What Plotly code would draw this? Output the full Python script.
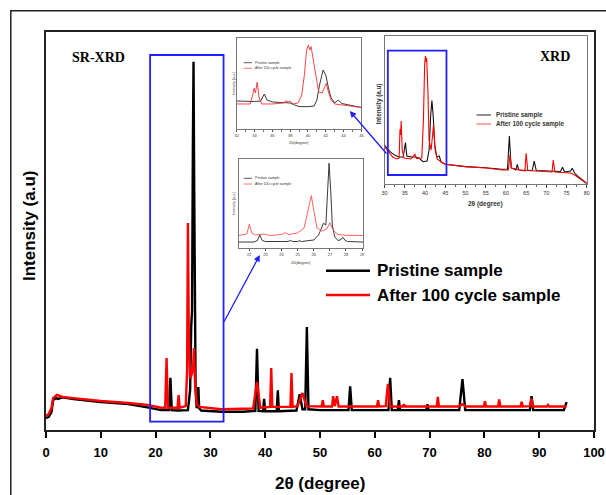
import plotly.graph_objects as go

# ---------------- main SR-XRD pattern ----------------
main_black_x = [0, 0.5, 1.0, 1.3, 1.8, 2.2, 3, 5, 10, 15, 18.5, 21, 22.45, 22.7, 22.95, 24, 25.9, 26.3, 26.5, 26.65, 26.8, 26.92, 27.05, 27.15, 27.3, 27.5, 27.65, 27.8, 27.95, 28.3, 32, 36, 38.2, 38.5, 38.8, 39.6, 39.8, 40.0, 42.1, 42.3, 42.5, 45.7, 46.3, 46.8, 47.3, 47.6, 47.9, 50, 55.2, 55.5, 55.8, 60, 62.5, 62.8, 63.1, 64.2, 64.4, 64.6, 69.4, 69.6, 69.8, 75.4, 76.0, 76.5, 80, 88.3, 88.6, 88.9, 94.5, 94.9, 95]
main_black_y = [3.0, 3.3, 4.5, 7.5, 8.0, 7.8, 8.2, 7.8, 7.0, 6.5, 5.7, 5.0, 5.0, 13.1, 5.0, 4.9, 5.0, 10, 26, 30, 70, 92.5, 60, 30, 10, 5.5, 6.0, 10.8, 5.5, 4.9, 4.6, 4.6, 4.8, 20.4, 4.8, 4.7, 7.8, 4.7, 4.7, 10.0, 4.7, 4.9, 9.0, 5.2, 5.2, 25.9, 5.2, 5.0, 5.0, 11.0, 5.0, 5.0, 5.0, 13.1, 5.0, 5.0, 7.5, 5.0, 5.0, 6.5, 5.0, 5.0, 12.8, 5.0, 5.0, 5.0, 8.5, 5.0, 5.0, 7.0, 7.0]

main_red_x = [0, 0.5, 1.0, 1.3, 2.0, 2.5, 3, 5, 10, 15, 18.5, 21, 21.75, 22.0, 22.25, 24.0, 24.2, 24.4, 25.5, 25.75, 25.9, 26.05, 26.3, 26.6, 26.85, 27.0, 27.2, 27.5, 28, 32, 37.8, 38.5, 39.1, 40.9, 41.1, 41.3, 44.6, 44.8, 45.0, 45.9, 46.8, 47.5, 50.3, 50.5, 50.7, 52.2, 52.4, 52.7, 53.1, 53.4, 60.4, 60.6, 60.8, 62.0, 62.4, 62.8, 65.1, 65.3, 65.5, 71.3, 71.5, 71.7, 75.3, 76.0, 76.6, 79.9, 80.1, 80.3, 82.5, 82.7, 82.9, 86.6, 86.8, 87.0, 88.3, 88.6, 88.9, 91.4, 91.6, 91.8, 95]
main_red_y = [3.5, 4.0, 5.5, 8.0, 8.8, 8.5, 8.3, 8.0, 7.3, 6.8, 6.3, 5.6, 5.6, 18.1, 5.6, 5.6, 8.8, 5.6, 6.0, 15, 52.0, 25, 13, 14, 16, 20.6, 12, 6.5, 5.8, 5.2, 5.4, 12.1, 5.6, 5.8, 15.6, 5.8, 5.8, 14.3, 5.8, 6.0, 9.3, 6.0, 5.9, 7.5, 5.9, 5.9, 8.5, 6.0, 8.5, 5.9, 5.9, 7.5, 5.9, 6.0, 11.6, 5.9, 5.9, 6.5, 5.9, 5.9, 8.3, 5.9, 5.9, 6.5, 5.9, 5.9, 7.2, 5.9, 5.9, 7.7, 5.9, 5.9, 7.1, 5.9, 6.0, 7.9, 5.9, 5.9, 6.3, 5.9, 5.9]

# ---------------- inset 1 : XRD zoom 32-46 ----------------
in1_black_x = [32, 33, 34, 34.7, 35.1, 35.4, 36, 37, 38, 38.5, 39, 40, 40.7, 41.0, 41.3, 41.7, 42.0, 42.3, 42.6, 43.0, 43.4, 43.8, 44.5, 45.5, 46]
in1_black_y = [30.9, 30.3, 30.3, 30.9, 38.6, 32, 29.8, 29.2, 28.7, 26.5, 24.8, 24.6, 25.4, 32, 48.5, 65, 59.5, 45.2, 34.2, 28.7, 32, 28.1, 26.5, 24.3, 23.7]
in1_red_x = [32, 33.5, 33.8, 33.95, 34.1, 34.3, 34.5, 34.8, 36, 37.3, 37.5, 37.8, 38.0, 38.3, 38.9, 39.3, 39.6, 39.85, 40.05, 40.2, 40.35, 40.6, 40.9, 41.2, 41.6, 41.9, 42.05, 42.3, 42.6, 43, 44, 45, 46]
in1_red_y = [27.6, 27.6, 37.5, 44.9, 39.7, 51.5, 35.3, 27.6, 27.6, 28.7, 31.2, 29.8, 30.9, 27.6, 28.7, 37.5, 59.5, 87.1, 92.6, 87.1, 90.9, 76, 54, 40.8, 39.7, 46.3, 50.4, 40.8, 32, 27.6, 26.5, 24.8, 23.7]

# ---------------- inset 2 : SR-XRD zoom 21.3-29.1 ----------------
in2_black_x = [21.33, 22.3, 22.5, 22.65, 22.8, 23.0, 24.0, 24.4, 24.55, 24.7, 25.0, 25.1, 25.25, 26.0, 26.3, 26.5, 26.6, 26.75, 26.85, 26.95, 27.05, 27.15, 27.3, 27.5, 27.7, 27.8, 27.95, 28.1, 29.08]
in2_black_y = [6.7, 6.7, 8.5, 14.6, 8.5, 7.3, 7.3, 7.3, 8.4, 7.3, 7.3, 8.2, 7.3, 9, 14.6, 23.6, 27.8, 25.8, 65, 95.2, 65, 25.8, 12.4, 8.4, 9.5, 12, 8.5, 7.3, 6.7]
in2_red_x = [21.33, 21.85, 22.0, 22.15, 22.4, 22.9, 23.3, 24.0, 24.2, 24.45, 25.0, 25.4, 25.65, 25.85, 26.0, 26.2, 26.5, 26.8, 27.0, 27.2, 27.5, 28.0, 29.08]
in2_red_y = [14, 15.7, 26.6, 16.9, 14.6, 15.7, 14, 15.2, 17.2, 15.2, 16.9, 22.5, 42.7, 58.8, 42.7, 22.5, 19.1, 21.3, 28.4, 20.2, 15.2, 14.3, 14]

# ---------------- inset 3 : lab XRD 30-80 ----------------
in3_black_x = [30, 30.5, 31.5, 32.5, 33.5, 34.6, 35.15, 35.5, 36.5, 37.5, 38.5, 39.5, 40.5, 41.0, 41.4, 41.7, 42.0, 42.4, 42.9, 43.5, 44.0, 45, 50, 55, 59, 60.4, 60.85, 61.3, 62.5, 62.8, 63.2, 66.5, 67.0, 67.5, 73.5, 74.0, 74.5, 76.0, 76.4, 77, 78, 79, 80]
in3_black_y = [26.5, 24.5, 21.7, 19.7, 18.4, 18.4, 28.1, 19.1, 18.4, 18.4, 17.7, 15.2, 15.7, 23.1, 46.7, 56.4, 46.7, 26.5, 18.4, 19.1, 15, 13.5, 11.9, 11.2, 10.1, 10.3, 32.6, 11, 9.6, 13.5, 9.6, 9.3, 15.7, 9.3, 8.6, 11.5, 8.3, 9, 10.8, 7.6, 4.9, 2.6, 0.7]
in3_red_x = [30, 31, 32, 33, 33.6, 33.8, 33.95, 34.1, 34.35, 34.8, 36.5, 37.5, 37.9, 39.2, 39.6, 39.9, 40.1, 40.25, 40.4, 40.7, 41.0, 41.5, 42.1, 42.5, 43.0, 44, 45, 50, 55, 59, 60.6, 61.0, 61.4, 64.7, 65.0, 65.4, 71.4, 71.7, 72.1, 75, 76, 77, 78, 79, 80]
in3_red_y = [25.4, 21.8, 18.4, 17.1, 17.7, 37.1, 33.2, 42.7, 23.1, 17.7, 17.1, 20.2, 17.5, 17.7, 43.4, 80.4, 86.5, 82.5, 85.2, 63.6, 29.9, 23.1, 40, 23.1, 17.1, 15, 13.5, 11.9, 11, 9.6, 9.6, 19.8, 11, 9, 20.9, 9.3, 8.3, 16.4, 8.3, 7.8, 7.6, 6.3, 4.2, 2.2, 0.5]

main_ticks = [0, 10, 20, 30, 40, 50, 60, 70, 80, 90, 100]
series_names = ["Pristine sample", "After 100 cycle sample"]

# ---------------- geometry helpers (pixel -> paper) ----------------
W, H = 606, 495
L, R, T, B = 46, 594, 32, 430
def px(x):
    return (x - L) / (R - L)
def py(y):
    return (B - y) / (B - T)

BLACK = "#000000"
RED = "#ff0000"
BLUE = "#1f1fff"
FONT = "Liberation Sans, Arial, sans-serif"
SERIF = "Liberation Serif, Times New Roman, serif"

fig = go.Figure()
fig.add_trace(go.Scatter(x=main_black_x, y=main_black_y, mode="lines", line=dict(color=BLACK, width=2.4), showlegend=False))
fig.add_trace(go.Scatter(x=main_red_x, y=main_red_y, mode="lines", line=dict(color=RED, width=2.4), showlegend=False))

fig.add_trace(go.Scatter(x=in1_black_x, y=in1_black_y, xaxis="x2", yaxis="y2", mode="lines", line=dict(color="#222", width=0.9), showlegend=False))
fig.add_trace(go.Scatter(x=in1_red_x, y=in1_red_y, xaxis="x2", yaxis="y2", mode="lines", line=dict(color="#ff3030", width=0.9), showlegend=False))
fig.add_trace(go.Scatter(x=in2_black_x, y=in2_black_y, xaxis="x3", yaxis="y3", mode="lines", line=dict(color="#222", width=0.9), showlegend=False))
fig.add_trace(go.Scatter(x=in2_red_x, y=in2_red_y, xaxis="x3", yaxis="y3", mode="lines", line=dict(color="#ff5050", width=0.9), showlegend=False))
fig.add_trace(go.Scatter(x=in3_black_x, y=in3_black_y, xaxis="x4", yaxis="y4", mode="lines", line=dict(color="#111", width=1.1), showlegend=False))
fig.add_trace(go.Scatter(x=in3_red_x, y=in3_red_y, xaxis="x4", yaxis="y4", mode="lines", line=dict(color=RED, width=1.1), showlegend=False))

inset_frame = dict(showline=True, linecolor="#777", linewidth=1, mirror=True, showgrid=False, zeroline=False, automargin=False)

fig.update_layout(
    width=W, height=H, autosize=False,
    margin=dict(l=L, r=W - R, t=T, b=H - B, pad=0, autoexpand=False),
    paper_bgcolor="white", plot_bgcolor="white",
    showlegend=False,
    xaxis=dict(range=[0, 100], tickvals=main_ticks, ticks="outside", ticklen=6, tickwidth=1.5, tickcolor=BLACK,
               showline=True, linecolor="#222", linewidth=1.8, mirror=True, showgrid=False, zeroline=False, automargin=False,
               tickfont=dict(family=FONT, size=13, color=BLACK, weight="bold"), ticklabelstandoff=3),
    yaxis=dict(range=[0, 100], showticklabels=False, ticks="", showline=True, linecolor="#222", linewidth=1.8,
               mirror=True, showgrid=False, zeroline=False, automargin=False),
    xaxis2=dict(domain=[px(236.7), px(361.4)], anchor="y2", range=[32, 46], dtick=2, tick0=32,
                ticks="outside", ticklen=2, tickwidth=0.8, tickcolor="#555",
                minor=dict(ticks="outside", ticklen=1.5, dtick=1, tickcolor="#777"),
                tickfont=dict(family=FONT, size=4, color="#333"), **inset_frame),
    yaxis2=dict(domain=[py(129), py(38.3)], anchor="x2", range=[0, 100], showticklabels=False, ticks="", **inset_frame),
    xaxis3=dict(domain=[px(238.5), px(363.4)], anchor="y3", range=[21.33, 29.08], dtick=1, tick0=22,
                ticks="outside", ticklen=2, tickwidth=0.8, tickcolor="#555",
                tickfont=dict(family=FONT, size=4, color="#333"), **inset_frame),
    yaxis3=dict(domain=[py(248), py(159)], anchor="x3", range=[0, 100], showticklabels=False, ticks="", **inset_frame),
    xaxis4=dict(domain=[px(384.6), px(586.8)], anchor="y4", range=[30, 80], dtick=5, tick0=30,
                ticks="outside", ticklen=3, tickwidth=0.8, tickcolor="#444",
                minor=dict(ticks="outside", ticklen=2, dtick=2.5, tickcolor="#666"),
                tickfont=dict(family=FONT, size=5.5, color="#333"), **inset_frame),
    yaxis4=dict(domain=[py(184.3), py(36)], anchor="x4", range=[0, 100], showticklabels=False, ticks="", **inset_frame),
)

shapes = []
# outer figure frame
shapes.append(dict(type="rect", xref="paper", yref="paper", x0=px(10.8), x1=px(640), y0=py(540), y1=py(10.7),
                   line=dict(color="#222", width=1.5), layer="above"))
# blue zoom boxes
shapes.append(dict(type="rect", xref="x", yref="y", x0=19.0, x1=32.4, y0=py(421.7) * 100, y1=py(55) * 100,
                   line=dict(color=BLUE, width=1.8)))
shapes.append(dict(type="rect", xref="x4", yref="y4", x0=30.8, x1=45.3, y0=(184.3 - 175) / 1.483, y1=(184.3 - 50.7) / 1.483,
                   line=dict(color=BLUE, width=1.8)))

annotations = []
def line_leg(x0, x1, y, color, width):
    shapes.append(dict(type="line", xref="paper", yref="paper", x0=px(x0), x1=px(x1), y0=py(y), y1=py(y),
                       line=dict(color=color, width=width)))
def text(x, y, s, size, family=FONT, weight="normal", xanchor="left", color=BLACK, angle=0):
    annotations.append(dict(xref="paper", yref="paper", x=px(x), y=py(y), text=s, showarrow=False,
                            xanchor=xanchor, yanchor="middle", textangle=angle,
                            font=dict(family=family, size=size, color=color, weight=weight)))

# main legend
line_leg(326, 370, 270.7, BLACK, 2.5)
line_leg(326, 370, 295, RED, 2.5)
text(375, 270.7, series_names[0], 17, weight="bold")
text(375, 295, series_names[1], 17, weight="bold")

# inset legends
line_leg(243.7, 252, 62.7, "#333", 0.8)
line_leg(243.7, 252, 68.3, "#ff5050", 0.8)
text(253, 62.7, series_names[0], 3.6, color="#333")
text(253, 68.3, series_names[1], 3.6, color="#333")
line_leg(243.7, 252, 178.3, "#333", 0.8)
line_leg(243.7, 252, 184, "#ff5050", 0.8)
text(253, 178.3, series_names[0], 3.6, color="#333")
text(253, 184, series_names[1], 3.6, color="#333")
line_leg(476.6, 491, 115, "#222", 1)
line_leg(476.6, 491, 124, "#ff5050", 1)
text(493.5, 115, series_names[0], 6.3, weight="bold", color="#333")
text(493.5, 124, series_names[1], 6.3, weight="bold", color="#333")

# titles and labels
text(320, 483, "2θ (degree)", 17, weight="bold", xanchor="center")
text(29, 226, "Intensity (a.u)", 17, weight="bold", xanchor="center", angle=-90)
text(98, 57.3, "SR-XRD", 14, family=SERIF, weight="bold", xanchor="center")
text(554.7, 56, "XRD", 14, family=SERIF, weight="bold", xanchor="center")
text(299, 142, "2θ(degree)", 4, xanchor="center", color="#333")
text(301, 262, "2θ(degree)", 4, xanchor="center", color="#333")
text(485.7, 204, "2θ (degree)", 6.5, weight="bold", xanchor="center", color="#333")
text(233.7, 83, "Intensity (a.u.)", 3.6, xanchor="center", angle=-90, color="#333")
text(233.7, 203, "Intensity (a.u.)", 3.6, xanchor="center", angle=-90, color="#333")
text(378.5, 104, "Intensity (a.u)", 6.3, weight="bold", xanchor="center", angle=-90, color="#333")

# arrows
annotations.append(dict(xref="paper", yref="paper", x=px(259.8), y=py(255), ax=223.4 - 259.8, ay=323 - 255,
                        text="", showarrow=True, arrowhead=2, arrowsize=1, arrowwidth=1.3, arrowcolor=BLUE, standoff=0))
annotations.append(dict(xref="paper", yref="paper", x=px(349.8), y=py(111), ax=387.7 - 349.8, ay=155 - 111,
                        text="", showarrow=True, arrowhead=2, arrowsize=1, arrowwidth=1.3, arrowcolor=BLUE, standoff=0))

fig.update_layout(shapes=shapes, annotations=annotations)
fig.write_html("out.html", config={"displayModeBar": False},
               post_script="document.body.style.margin='0';document.body.style.padding='0';document.documentElement.style.overflow='hidden';")
